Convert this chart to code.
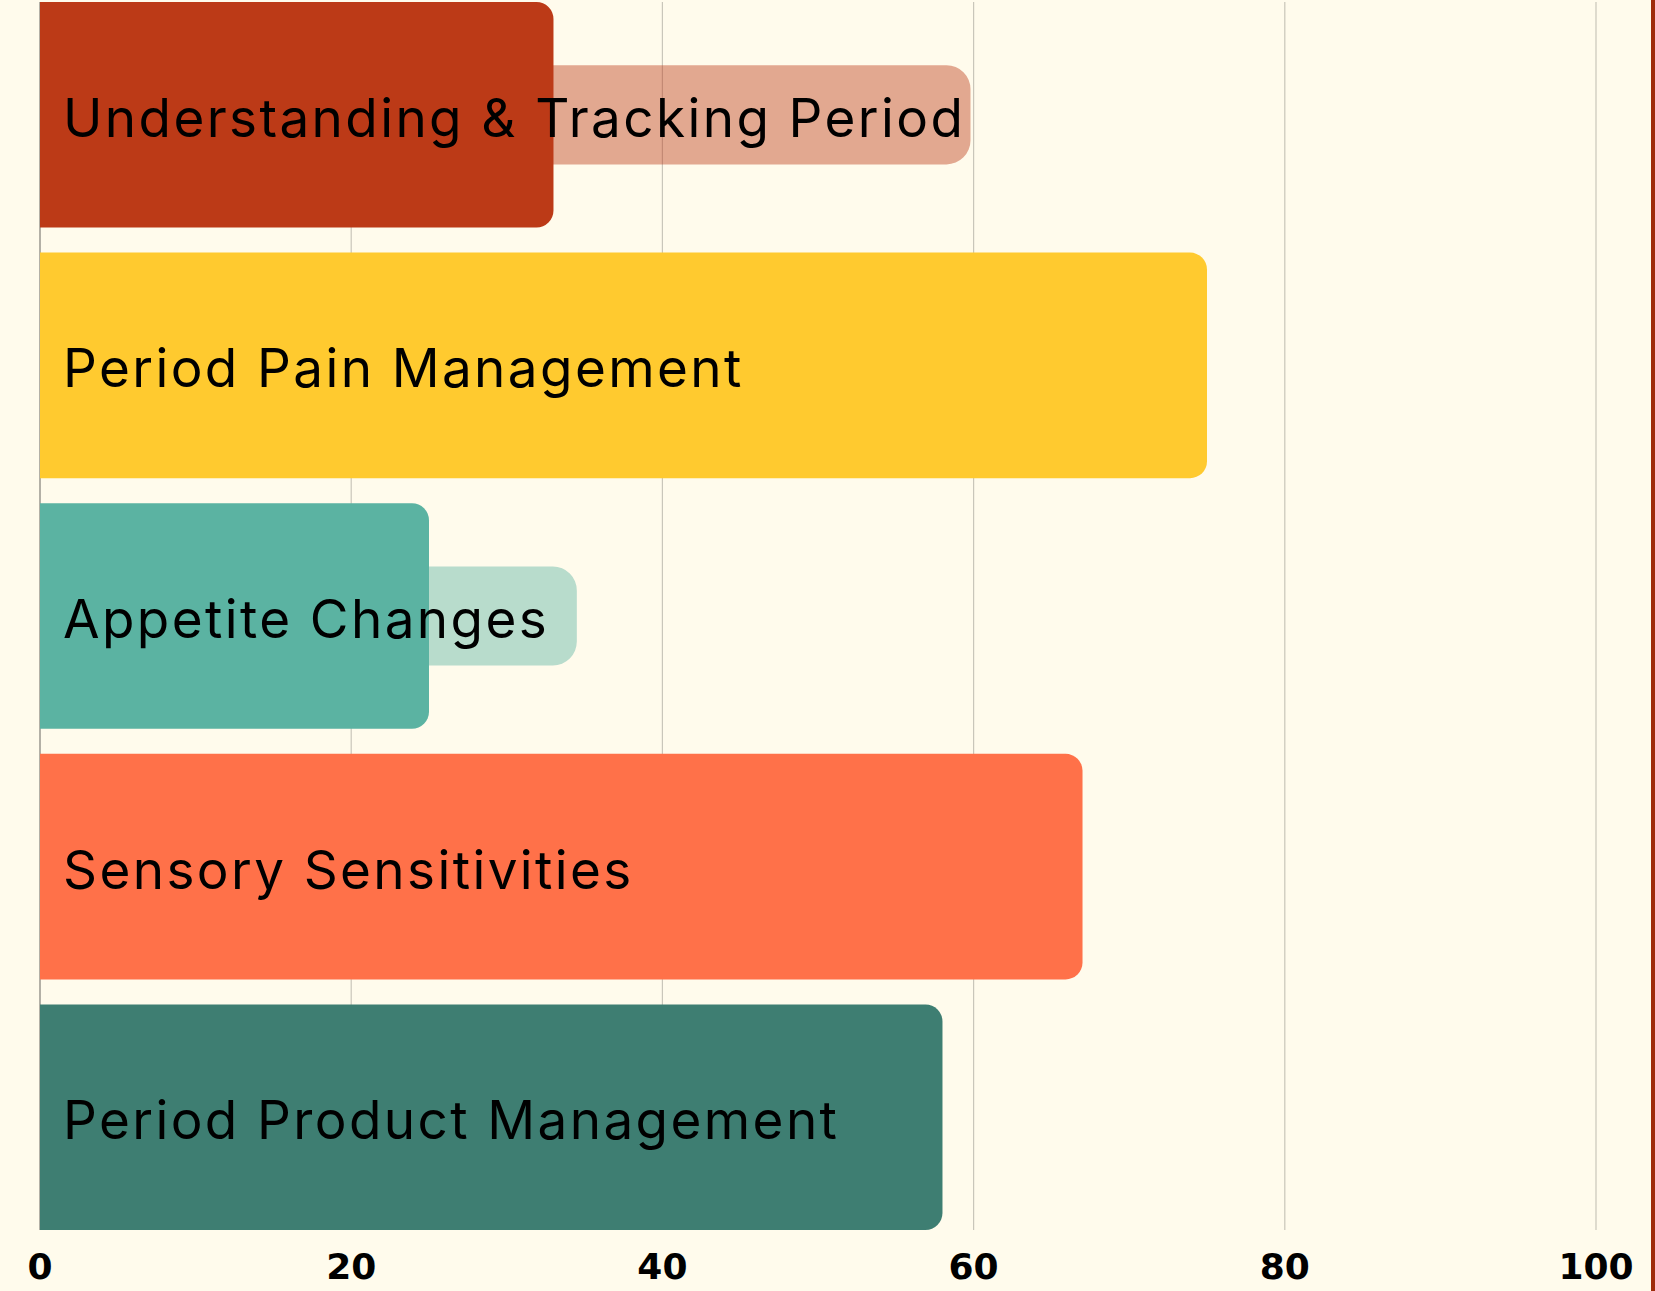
<!DOCTYPE html>
<html>
<head>
<meta charset="utf-8">
<script src="https://cdn.jsdelivr.net/npm/d3@7"></script>
<style>
  html, body { margin: 0; padding: 0; background: #FFFBEC; }
  body { width: 1651px; height: 1291px; border-right: 4px solid #9E2B0B; overflow: hidden; }
  svg { display: block; }
</style>
</head>
<body>
<div id="chart"></div>
<script>
// Topics and their scores
const topics = [
  "Understanding & Tracking Period",
  "Period Pain Management",
  "Appetite Changes",
  "Sensory Sensitivities",
  "Period Product Management",
];
const mainValues = [33, 75, 25, 67, 58];
const extraValues = [59.8, null, 34.5, null, null];
const barColors = ["#BC3A17", "#FFCA2F", "#5BB3A2", "#FF7149", "#3E7E72"];
const xTicks = [0, 20, 40, 60, 80, 100];

const width = 1651;
const height = 1291;
const margins = { top: 2, right: 55, bottom: 61, left: 40 };

const rows = topics.map((t, i) => ({
  topic: t,
  main: mainValues[i],
  extra: extraValues[i],
  color: barColors[i],
}));

const svg = d3
  .select("#chart")
  .append("svg")
  .attr("width", width)
  .attr("height", height);

// Scales
const x = d3
  .scaleLinear()
  .domain([0, 100])
  .range([margins.left, width - margins.right]);

const y = d3
  .scaleBand()
  .domain(topics)
  .range([margins.top, height - margins.bottom])
  .paddingInner(0.1)
  .paddingOuter(0);

// bar with square left side and rounded right side
function rightRounded(x0, x1, y0, h, r) {
  r = Math.min(r, (x1 - x0), h / 2);
  return `M${x0},${y0}H${x1 - r}A${r},${r} 0 0 1 ${x1},${y0 + r}` +
    `V${y0 + h - r}A${r},${r} 0 0 1 ${x1 - r},${y0 + h}H${x0}Z`;
}

// Grid lines
svg
  .append("g")
  .selectAll("line")
  .data(xTicks)
  .join("line")
  .attr("x1", (d) => x(d))
  .attr("x2", (d) => x(d))
  .attr("y1", margins.top)
  .attr("y2", height - margins.bottom)
  .attr("stroke", (d) => (d === 0 ? "#9a978f" : "#c9c6ba"))
  .attr("stroke-width", (d) => (d === 0 ? 1.5 : 1.2));

// Lighter secondary bars
const extraH = y.bandwidth() * 0.44;
svg
  .append("g")
  .selectAll("path")
  .data(rows.filter((d) => d.extra != null))
  .join("path")
  .attr("d", (d) =>
    rightRounded(x(0), x(d.extra), y(d.topic) + (y.bandwidth() - extraH) / 2, extraH, 24)
  )
  .attr("fill", (d) => d.color)
  .attr("fill-opacity", 0.43);

// Main bars
svg
  .append("g")
  .selectAll("path")
  .data(rows)
  .join("path")
  .attr("d", (d) => rightRounded(x(0), x(d.main), y(d.topic), y.bandwidth(), 17))
  .attr("fill", (d) => d.color);

// Labels inside bars
svg
  .append("g")
  .selectAll("text")
  .data(rows)
  .join("text")
  .attr("x", x(0) + 23)
  .attr("y", (d) => y(d.topic) + y.bandwidth() / 2 + 22)
  .attr("font-family", "Inter, 'Noto Sans', sans-serif")
  .attr("font-size", 53)
  .attr("letter-spacing", "2.4px")
  .attr("fill", "#000")
  .text((d) => d.topic);

// x axis labels
svg
  .append("g")
  .selectAll("text")
  .data(xTicks)
  .join("text")
  .attr("x", (d) => x(d))
  .attr("y", 1279)
  .attr("text-anchor", "middle")
  .attr("font-family", "'DejaVu Sans', sans-serif")
  .attr("font-weight", "bold")
  .attr("font-size", 36)
  .attr("fill", "#000")
  .text((d) => d);
</script>
</body>
</html>
